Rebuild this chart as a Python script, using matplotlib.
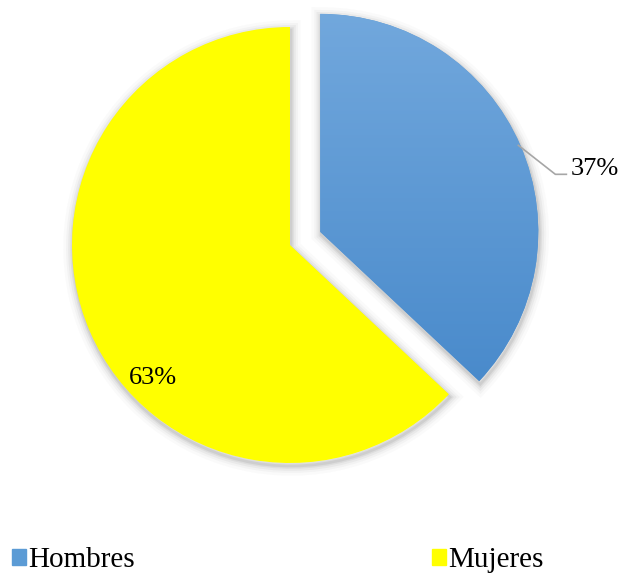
import numpy as np
import matplotlib.pyplot as plt
from matplotlib.patches import Wedge, Rectangle
from matplotlib.colors import LinearSegmentedColormap

labels = ['Hombres', 'Mujeres']
values = [37, 63]
colors = ['#5b9bd5', '#ffff00']

plt.rcParams['font.family'] = ['Liberation Serif', 'DejaVu Serif']

fig = plt.figure(figsize=(6.24, 5.73), dpi=100)
ax = fig.add_axes([0, 0, 1, 1])

R = 218
cx, cy = 290, 328
wedges, _ = ax.pie(values, colors=colors, startangle=90, counterclock=False,
                   radius=R, center=(cx, cy), explode=[33, 0])
ax.set_xlim(0, 624)
ax.set_ylim(0, 573)
ax.set_aspect('equal')
ax.axis('off')

# soft shadow around each slice
for w in wedges:
    for lw, a in [(14, 0.025), (10, 0.035), (7, 0.05), (4, 0.07), (2, 0.09)]:
        sh = Wedge((w.center[0] + 1, w.center[1] - 3), w.r, w.theta1, w.theta2,
                   facecolor='none', edgecolor='#404040', linewidth=lw,
                   alpha=a, zorder=0)
        ax.add_patch(sh)
    w.set_zorder(2)

# vertical gradient on the blue slice
blue = wedges[0]
bx, by = blue.center
cmap = LinearSegmentedColormap.from_list('g', ['#4285c8', '#72a8dd'])
grad = np.linspace(0, 1, 256).reshape(-1, 1)
im = ax.imshow(grad, cmap=cmap, origin='lower', aspect='auto',
               extent=[bx - 5, bx + R + 5, by - R, by + R + 5], zorder=3)
im.set_clip_path(blue)
ax.set_xlim(0, 624)
ax.set_ylim(0, 573)

pct = [f'{v / sum(values) * 100:.0f}%' for v in values]

# outside label with leader line for the first slice
mid = np.deg2rad((blue.theta1 + blue.theta2) / 2)
ex = bx + R * np.cos(mid)
ey = by + R * np.sin(mid)
ax.plot([ex - 2, ex + 35, ex + 46], [ey, ey - 29, ey - 29],
        color='#a6a6a6', lw=1.2, zorder=4)
ax.text(ex + 50, ey - 30, pct[0], fontsize=19, ha='left', va='baseline',
        zorder=5)

# inside label for the second slice
ang = np.deg2rad(224)
ax.text(cx + 191 * np.cos(ang), cy + 191 * np.sin(ang), pct[1], fontsize=19,
        ha='center', va='center', zorder=5)

handles = [Rectangle((0, 0), 1, 1, color=c) for c in colors]
ax.legend(handles, labels, loc='lower left', bbox_to_anchor=(0.019, 0.0),
          ncol=2, frameon=False, fontsize=21, handlelength=0.48,
          handleheight=0.48, handletextpad=0.08, columnspacing=10.2,
          borderaxespad=0, borderpad=0)

fig.savefig('out.png', dpi=100)
